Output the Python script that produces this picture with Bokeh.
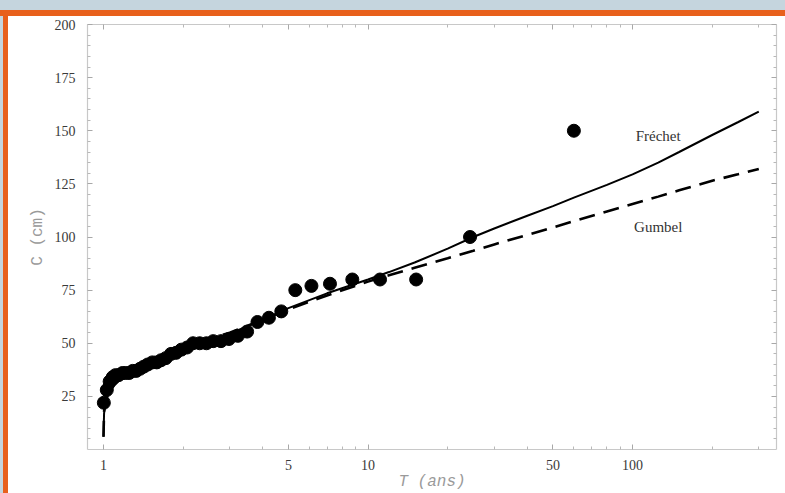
from bokeh.plotting import figure
from bokeh.models import (Range1d, FixedTicker, LinearAxis, LogAxis,
                          NumeralTickFormatter, CustomJSTickFormatter)
from bokeh.core.properties import value
from bokeh.embed import file_html
from bokeh.resources import INLINE

# observed values: return period T (years) and C (cm)
T_obs = [60, 24.3, 15.2, 11.1, 8.72, 7.18, 6.11, 5.31, 4.70, 4.22, 3.82, 3.49,
         3.22, 2.98, 2.78, 2.60, 2.45, 2.31, 2.18, 2.07, 1.97, 1.88, 1.80, 1.72,
         1.65, 1.59, 1.53, 1.47, 1.42, 1.375, 1.33, 1.29, 1.25, 1.21, 1.18,
         1.14, 1.11, 1.083, 1.055, 1.029, 1.003]
C_obs = [150, 100, 80, 80, 80, 78, 77, 75, 65, 62, 60, 55.5,
         53.5, 52, 51, 51, 50, 50, 50, 48, 47, 45.5, 45, 43,
         42, 41, 41, 40, 39, 38, 37, 37, 36, 36, 36,
         35, 35, 34, 32, 28, 22]

# fitted curves
T_fit = [1.0, 1.005, 1.02, 1.05, 1.1, 1.2, 1.5, 2, 3, 4, 5, 7, 10, 12, 15,
         20, 25, 30, 40, 50, 60, 80, 100, 125, 150, 200, 250, 300]
C_frechet = [6, 17, 23, 27, 30.5, 35, 41, 47.5, 54.5, 61, 66.5, 73.5, 80,
             83.5, 88, 94.5, 100, 104, 110, 114.5, 118.5, 124.5, 129.5, 135,
             140, 148, 154, 159]
C_gumbel = [6, 18, 23, 27, 30.5, 35, 41, 48, 55, 61, 66, 72.5, 79, 82, 85.5,
            90, 93.5, 96.5, 101, 104.5, 107.5, 112, 115.5, 119, 122, 126.5,
            129.5, 132]

curve_names = ["Fréchet", "Gumbel"]
label_T = [125, 125]
label_C = [147.5, 104.5]

x_major = [1, 5, 10, 50, 100]
x_minor = [2, 3, 4, 6, 7, 8, 9, 20, 30, 40, 60, 70, 80, 90, 200, 300]
y_major = [25, 50, 75, 100, 125, 150, 175, 200]
y_minor = [v for v in range(5, 200, 5) if v % 25 != 0]

SERIF = "Liberation Serif"
MONO = "Liberation Mono"

p = figure(width=785, height=493, x_axis_type="log",
           x_range=Range1d(0.87, 350), y_range=Range1d(0, 200),
           output_backend="svg", toolbar_location=None,
           min_border_left=87, min_border_right=9,
           min_border_top=24, min_border_bottom=42,
           border_fill_color=None, background_fill_color="white",
           outline_line_color=None)

p.styles = {
    "background-image": ("linear-gradient(to bottom, #c5d5de 0px, #c5d5de 10px, "
                         "#e8601c 10px, #e8601c 16px, rgba(255,255,255,0) 16px), "
                         "linear-gradient(to right, #c5d5de 0px, #c5d5de 3px, "
                         "#e8601c 3px, #e8601c 8px, #ffffff 8px)"),
    "background-repeat": "no-repeat",
    "background-size": "100% 100%",
}

p.xgrid.visible = False
p.ygrid.visible = False


def style_axis(ax):
    ax.axis_line_color = "#c8c8c8"
    ax.axis_line_width = 1.2
    ax.major_tick_line_color = "#a8a8a8"
    ax.minor_tick_line_color = "#b8b8b8"
    ax.major_tick_in = 5
    ax.major_tick_out = 0
    ax.minor_tick_in = 3
    ax.minor_tick_out = 0


xt = FixedTicker(ticks=x_major, minor_ticks=x_minor)
yt = FixedTicker(ticks=y_major, minor_ticks=y_minor)

xa = p.xaxis[0]
xa.ticker = xt
xa.formatter = NumeralTickFormatter(format="0")
style_axis(xa)
xa.major_label_text_font = SERIF
xa.major_label_text_font_size = "14px"
xa.major_label_text_color = "#3a3a3a"
xa.major_label_standoff = 10
xa.axis_label = "T (ans)"
xa.axis_label_text_font = MONO
xa.axis_label_text_font_style = "italic"
xa.axis_label_text_font_size = "16px"
xa.axis_label_text_color = "#9a9a9a"
xa.axis_label_standoff = 0

ya = p.yaxis[0]
ya.ticker = yt
style_axis(ya)
ya.major_label_text_font = SERIF
ya.major_label_text_font_size = "14px"
ya.major_label_text_color = "#3a3a3a"
ya.major_label_standoff = 12
ya.axis_label = "C (cm)"
ya.axis_label_text_font = MONO
ya.axis_label_text_font_style = "normal"
ya.axis_label_text_font_size = "16px"
ya.axis_label_text_color = "#9a9a9a"
ya.axis_label_standoff = 5

top = LogAxis(ticker=FixedTicker(ticks=x_major, minor_ticks=x_minor),
              formatter=CustomJSTickFormatter(code="return '';"),
              major_label_standoff=0)
style_axis(top)
p.add_layout(top, "above")
right = LinearAxis(ticker=FixedTicker(ticks=y_major, minor_ticks=y_minor),
                   formatter=CustomJSTickFormatter(code="return '';"),
                   major_label_standoff=0)
style_axis(right)
p.add_layout(right, "right")

p.line(T_fit, C_frechet, line_color="black", line_width=2)
p.line(T_fit, C_gumbel, line_color="black", line_width=2.6, line_dash="16 9")
p.scatter(T_obs, C_obs, marker="circle", size=13, fill_color="black",
          line_color="black")

p.text(x=label_T, y=label_C, text=curve_names, text_font=value(SERIF),
       text_font_size="15px", text_align="center", text_baseline="middle",
       text_color="#333333")

open("out.html", "w").write(file_html(p, INLINE))
